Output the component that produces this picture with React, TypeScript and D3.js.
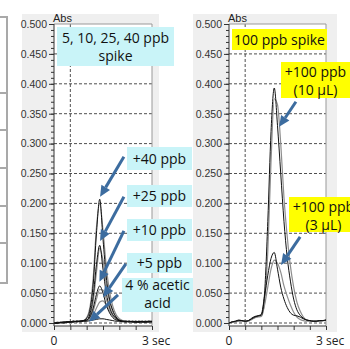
import { useEffect, useRef } from "react";
import * as d3 from "d3";

// sample times (sec)
const times = [0, 0.1, 0.2, 0.3, 0.4, 0.5, 0.6, 0.7, 0.8, 0.9, 1.0, 1.1, 1.2, 1.3, 1.4, 1.5, 1.6, 1.7, 1.8, 1.9, 2.0, 2.1, 2.2, 2.3, 2.4, 2.5, 2.6, 2.7, 2.8, 2.9, 3.0];

// left panel: 4 % acetic acid blank + spikes
const leftBlank = [0.000, -0.001, 0.001, 0.000, 0.002, 0.001, 0.002, 0.003, 0.002, 0.003, 0.003, 0.004, 0.005, 0.006, 0.007, 0.007, 0.006, 0.005, 0.004, 0.003, 0.003, 0.002, 0.002, 0.003, 0.002, 0.001, 0.002, 0.003, 0.002, 0.002, 0.003];
const left5 = [0.000, 0.001, 0.000, 0.001, 0.002, 0.002, 0.001, 0.003, 0.002, 0.003, 0.004, 0.007, 0.013, 0.025, 0.035, 0.037, 0.030, 0.020, 0.012, 0.007, 0.004, 0.003, 0.003, 0.002, 0.003, 0.002, 0.002, 0.001, 0.002, 0.003, 0.002];
const left10 = [0.000, 0.000, 0.001, 0.002, 0.001, 0.002, 0.003, 0.002, 0.003, 0.004, 0.005, 0.010, 0.025, 0.048, 0.062, 0.050, 0.030, 0.017, 0.009, 0.005, 0.004, 0.003, 0.002, 0.003, 0.002, 0.002, 0.003, 0.002, 0.001, 0.002, 0.002];
const left10b = [0.000, 0.001, 0.000, 0.001, 0.002, 0.001, 0.002, 0.003, 0.003, 0.003, 0.004, 0.008, 0.020, 0.040, 0.056, 0.055, 0.040, 0.024, 0.013, 0.007, 0.004, 0.003, 0.003, 0.002, 0.002, 0.003, 0.002, 0.002, 0.003, 0.002, 0.003];
const left25 = [-0.001, 0.000, 0.001, 0.001, 0.002, 0.002, 0.002, 0.003, 0.003, 0.004, 0.005, 0.015, 0.045, 0.098, 0.130, 0.090, 0.050, 0.027, 0.014, 0.008, 0.004, 0.003, 0.002, 0.002, 0.003, 0.002, 0.001, 0.002, 0.002, 0.003, 0.002];
const left25b = [0.000, 0.000, 0.000, 0.001, 0.001, 0.002, 0.003, 0.002, 0.003, 0.003, 0.004, 0.012, 0.036, 0.085, 0.125, 0.105, 0.065, 0.036, 0.019, 0.010, 0.005, 0.003, 0.003, 0.002, 0.002, 0.002, 0.003, 0.002, 0.002, 0.002, 0.003];
const left40 = [0.000, 0.001, 0.001, 0.000, 0.002, 0.002, 0.003, 0.002, 0.003, 0.004, 0.008, 0.022, 0.065, 0.150, 0.207, 0.140, 0.077, 0.040, 0.021, 0.010, 0.005, 0.003, 0.003, 0.002, 0.002, 0.003, 0.002, 0.002, 0.003, 0.002, 0.002];
const left40b = [0.000, 0.000, 0.001, 0.001, 0.001, 0.002, 0.002, 0.003, 0.003, 0.004, 0.009, 0.026, 0.075, 0.160, 0.200, 0.155, 0.095, 0.053, 0.028, 0.014, 0.007, 0.004, 0.003, 0.003, 0.002, 0.002, 0.002, 0.003, 0.002, 0.003, 0.003];

// right panel: 100 ppb spike, 10 µL and 3 µL
const right10 = [0.000, 0.002, 0.003, 0.005, 0.004, 0.003, 0.004, 0.008, 0.011, 0.012, 0.013, 0.050, 0.170, 0.320, 0.393, 0.330, 0.250, 0.170, 0.110, 0.070, 0.040, 0.022, 0.013, 0.008, 0.005, 0.004, 0.003, 0.003, 0.004, 0.004, 0.005];
const right10b = [0.000, 0.001, 0.002, 0.004, 0.004, 0.003, 0.003, 0.006, 0.009, 0.010, 0.011, 0.035, 0.120, 0.270, 0.375, 0.365, 0.300, 0.210, 0.145, 0.095, 0.060, 0.035, 0.020, 0.010, 0.005, 0.003, 0.003, 0.003, 0.003, 0.004, 0.005];
const right3 = [0.000, 0.002, 0.003, 0.004, 0.004, 0.003, 0.004, 0.007, 0.010, 0.012, 0.015, 0.045, 0.080, 0.108, 0.118, 0.090, 0.060, 0.040, 0.026, 0.017, 0.013, 0.012, 0.010, 0.007, 0.005, 0.004, 0.003, 0.003, 0.004, 0.004, 0.005];
const right3b = [0.000, 0.001, 0.002, 0.003, 0.003, 0.003, 0.004, 0.006, 0.009, 0.011, 0.013, 0.030, 0.060, 0.090, 0.105, 0.100, 0.085, 0.062, 0.045, 0.030, 0.018, 0.010, 0.006, 0.004, 0.003, 0.003, 0.003, 0.003, 0.003, 0.004, 0.004];

const yMajor = [0, 0.05, 0.1, 0.15, 0.2, 0.25, 0.3, 0.35, 0.4, 0.45, 0.5];
const xTicks = [0, 0.5, 1, 1.5, 2, 2.5, 3];

const GRAY = "#8e8e8e";
const CYAN = "#c9f4f8";
const YELLOW = "#ffff00";
const ARROW = "#3c6c9f";
const TXT = "'Open Sans', 'Noto Sans', sans-serif";
const NARROW = "'Liberation Sans Narrow', 'Liberation Sans', Arial, sans-serif";

type Arrow = { from: [number, number]; to: [number, number] };
type Box = { x: number; y: number; w: number; h: number; fill: string; lines: string[]; cx: number; base: number[] };

const App = () => {
  const svgRef = useRef<SVGSVGElement | null>(null);

  useEffect(() => {
    const svg = d3.select(svgRef.current);
    svg.selectAll("*").remove();

    const y = d3.scaleLinear().domain([0, 0.5]).range([323, 24]);
    const yBottom = 326;

    // cropped table on far left
    const tbl = svg.append("g").attr("stroke", "#a9a9a9").attr("stroke-width", 2).attr("fill", "none");
    tbl.append("line").attr("x1", 7).attr("x2", 7).attr("y1", 17).attr("y2", 283);
    [17, 93, 130, 168, 206, 243, 283].forEach((yy) => {
      tbl.append("line").attr("x1", 0).attr("x2", 8).attr("y1", yy).attr("y2", yy);
    });

    const drawPanel = (
      bg: [number, number, number, number],
      x0: number,
      x3: number,
      series: { values: number[]; color: string; width: number }[],
      arrows: Arrow[],
      boxes: Box[]
    ) => {
      const x = d3.scaleLinear().domain([0, 3]).range([x0, x3]);
      const g = svg.append("g");

      g.append("rect").attr("x", bg[0]).attr("y", bg[1]).attr("width", bg[2]).attr("height", bg[3]).attr("fill", "#efefef");
      g.append("rect").attr("x", x0).attr("y", y(0.5)).attr("width", x3 - x0).attr("height", yBottom - y(0.5)).attr("fill", "#fff");

      // dashed grid
      const grid = g.append("g").attr("stroke", "#222").attr("stroke-width", 0.8).attr("stroke-dasharray", "3,2");
      yMajor.filter((v) => v < 0.5).forEach((v) => {
        grid.append("line").attr("x1", x0).attr("x2", x3).attr("y1", y(v)).attr("y2", y(v));
      });
      grid.append("line").attr("x1", x(0.5)).attr("x2", x(0.5)).attr("y1", y(0.5)).attr("y2", yBottom);

      // frame
      g.append("line").attr("x1", x0).attr("x2", x3).attr("y1", y(0.5)).attr("y2", y(0.5)).attr("stroke", "#999");
      g.append("line").attr("x1", x3).attr("x2", x3).attr("y1", y(0.5)).attr("y2", yBottom).attr("stroke", "#999");

      // traces
      const line = d3
        .line<number>()
        .x((_, i) => x(times[i]))
        .y((d) => y(d))
        .curve(d3.curveMonotoneX);
      series.forEach((s) => {
        g.append("path").attr("d", line(s.values)).attr("fill", "none").attr("stroke", s.color).attr("stroke-width", s.width);
      });

      // y axis
      const yAx = g
        .append("g")
        .attr("transform", `translate(${x0},0)`)
        .call(d3.axisLeft(y).tickValues(yMajor).tickSize(5).tickPadding(2).tickFormat(d3.format(".3f") as any));
      yAx.select(".domain").remove();
      yAx.selectAll("line").attr("stroke", "#333");
      yAx.selectAll("text").style("font-family", NARROW).style("font-size", "10.5px").attr("fill", "#333");

      const minorAx = g
        .append("g")
        .attr("transform", `translate(${x0},0)`)
        .call(d3.axisLeft(y).tickValues(d3.range(0, 0.5001, 0.01)).tickSize(3).tickFormat(() => ""));
      minorAx.select(".domain").remove();
      minorAx.selectAll("line").attr("stroke", "#333");

      g.append("line").attr("x1", x0).attr("x2", x0).attr("y1", y(0.5)).attr("y2", yBottom).attr("stroke", "#333");

      // x axis
      const xAx = g
        .append("g")
        .attr("transform", `translate(0,${yBottom})`)
        .call(d3.axisBottom(x).tickValues(xTicks).tickSize(4).tickFormat(() => ""));
      xAx.select(".domain").attr("stroke", "#333").attr("d", `M${x0},0H${x3}`);
      xAx.selectAll("line").attr("stroke", "#333");

      g.append("text").attr("x", x(0)).attr("y", 345).attr("text-anchor", "middle")
        .style("font-family", TXT).style("font-size", "12px").attr("fill", "#222").text("0");
      g.append("text").attr("x", x(3) - 10).attr("y", 345)
        .style("font-family", TXT).style("font-size", "12px").attr("fill", "#222").text("3 sec");
      g.append("text").attr("x", x0 - 1).attr("y", 22)
        .style("font-family", "'Liberation Sans', Arial, sans-serif").style("font-size", "11px").attr("fill", "#222").text("Abs");

      // annotations
      boxes.forEach((b) => {
        g.append("rect").attr("x", b.x).attr("y", b.y).attr("width", b.w).attr("height", b.h).attr("fill", b.fill);
        b.lines.forEach((t, i) => {
          g.append("text").attr("x", b.cx).attr("y", b.base[i]).attr("text-anchor", "middle")
            .style("font-family", TXT).style("font-size", "14px").attr("fill", "#111").text(t);
        });
      });

      arrows.forEach((a) => {
        const fx = x(a.from[0]), fy = y(a.from[1]);
        const tx = x(a.to[0]), ty = y(a.to[1]);
        const ang = Math.atan2(ty - fy, tx - fx);
        const hl = 11, hw = 5;
        const bx = tx - hl * Math.cos(ang), by = ty - hl * Math.sin(ang);
        g.append("line").attr("x1", fx).attr("y1", fy).attr("x2", bx).attr("y2", by)
          .attr("stroke", ARROW).attr("stroke-width", 3);
        const px = -Math.sin(ang) * hw, py = Math.cos(ang) * hw;
        g.append("path")
          .attr("d", `M${tx},${ty}L${bx + px},${by + py}L${bx - px},${by - py}Z`)
          .attr("fill", ARROW);
      });
    };

    drawPanel(
      [22, 14, 137, 318],
      54,
      152,
      [
        { values: left40b, color: GRAY, width: 1.2 },
        { values: left25b, color: GRAY, width: 1.2 },
        { values: left10b, color: GRAY, width: 1.2 },
        { values: left5, color: GRAY, width: 1.2 },
        { values: leftBlank, color: "#111", width: 1 },
        { values: left10, color: "#111", width: 1 },
        { values: left25, color: "#111", width: 1 },
        { values: left40, color: "#111", width: 1 },
      ],
      [
        { from: [2.14, 0.278], to: [1.41, 0.211] },
        { from: [2.14, 0.211], to: [1.41, 0.137] },
        { from: [2.14, 0.154], to: [1.39, 0.069] },
        { from: [2.2, 0.099], to: [1.5, 0.043] },
        { from: [1.96, 0.047], to: [1.07, 0.002] },
      ],
      [
        { x: 57, y: 27, w: 117, h: 39, fill: CYAN, lines: ["5, 10, 25, 40 ppb", "spike"], cx: 115.5, base: [43, 61] },
        { x: 127, y: 147, w: 65, h: 23, fill: CYAN, lines: ["+40 ppb"], cx: 159.5, base: [164] },
        { x: 127, y: 185, w: 65, h: 22, fill: CYAN, lines: ["+25 ppb"], cx: 159.5, base: [201] },
        { x: 127, y: 219, w: 65, h: 22, fill: CYAN, lines: ["+10 ppb"], cx: 159.5, base: [235] },
        { x: 127, y: 253, w: 65, h: 20, fill: CYAN, lines: ["+5 ppb"], cx: 159.5, base: [268] },
        { x: 122, y: 278, w: 71, h: 34, fill: CYAN, lines: ["4 % acetic", "acid"], cx: 157.5, base: [290, 308] },
      ]
    );

    drawPanel(
      [193, 14, 144, 318],
      229,
      326,
      [
        { values: right10b, color: GRAY, width: 1.2 },
        { values: right3b, color: GRAY, width: 1.2 },
        { values: right10, color: "#111", width: 1 },
        { values: right3, color: "#111", width: 1 },
      ],
      [
        { from: [2.07, 0.37], to: [1.55, 0.328] },
        { from: [2.2, 0.144], to: [1.61, 0.097] },
      ],
      [
        { x: 232, y: 29, w: 95, h: 21, fill: YELLOW, lines: ["100 ppb spike"], cx: 279.5, base: [45] },
        { x: 281, y: 62, w: 69, h: 36, fill: YELLOW, lines: ["+100 ppb", "(10 µL)"], cx: 315.5, base: [77, 95] },
        { x: 289, y: 197, w: 69, h: 35, fill: YELLOW, lines: ["+100 ppb", "(3 µL)"], cx: 323.5, base: [212, 230] },
      ]
    );
  }, []);

  return (
    <svg
      ref={svgRef}
      width={350}
      height={349}
      style={{ position: "fixed", left: 0, top: 0, background: "#fff", display: "block" }}
    />
  );
};

export default App;
